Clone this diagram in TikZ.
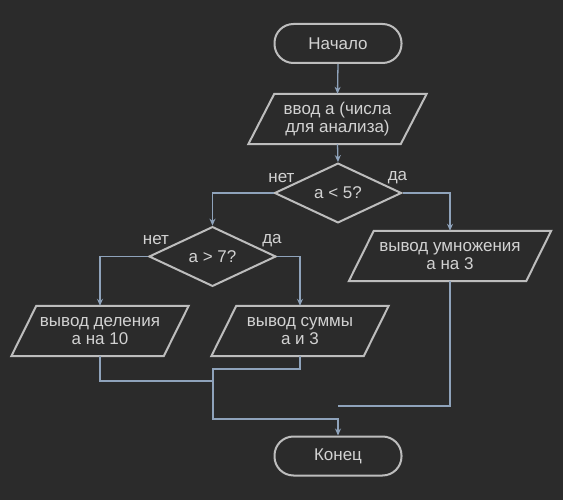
\documentclass[tikz,border=0pt]{standalone}
\usepackage{fontspec}
\setmainfont{Liberation Sans}
\usetikzlibrary{shapes.geometric,arrows.meta,calc}
\definecolor{bgc}{HTML}{2B2B2B}
\definecolor{edgec}{HTML}{BDBDBD}
\definecolor{txtc}{HTML}{D2D2D2}
\definecolor{connc}{HTML}{8FA3BB}
\tikzset{
  base/.style={inner sep=0pt, align=center, text=txtc, font=\fontsize{17}{18.5}\selectfont},
  term/.style={base, draw=edgec, line width=2pt, rounded corners=19pt, minimum width=127pt, minimum height=39pt},
  iobox/.style={base, minimum width=#1, minimum height=50pt},
  dec/.style={base, draw=edgec, line width=2pt, diamond, minimum width=127pt, minimum height=49pt},
  pline/.style={draw=edgec, line width=2pt, line join=miter},
  conn/.style={draw=connc, line width=1.3pt},
  arr/.style={conn, -{Stealth[length=7pt,width=6pt]}},
  lbl/.style={text=txtc, font=\fontsize{17}{18.5}\selectfont, inner sep=0pt}
}
\newcommand{\para}[2]{%
  \draw[pline] ([xshift=#2]#1.north west) -- ([xshift=#2]#1.north east)
    -- ([xshift=-#2]#1.south east) -- ([xshift=-#2]#1.south west) -- cycle;}
\begin{document}
\begin{tikzpicture}[x=1pt,y=-1pt]
\fill[bgc] (0,0) rectangle (563,500);
\useasboundingbox (0,0) rectangle (563,500);

\node[term] (start) at (338,43.5) {Начало};
\node[iobox=152pt] (inp) at (337.5,119) {ввод а (числа\\для анализа)};
\para{inp}{13pt}
\node[dec] (d1) at (338,193) {a < 5?};
\node[dec] (d2) at (212.5,256.5) {a > 7?};
\node[iobox=177pt] (mul) at (450,256) {вывод умножения\\а на 3};
\para{mul}{12.5pt}
\node[iobox=152pt] (div) at (100,331) {вывод деления\\а на 10};
\para{div}{12.5pt}
\node[iobox=152pt] (sum) at (300,331) {вывод суммы\\а и 3};
\para{sum}{12.5pt}
\node[term] (end) at (338,456) {Конец};

\node[lbl] (l1) at ($(d1.west)+(8,-15)$) {нет};
\node[lbl] (l2) at ($(d1.east)+(-5,-15)$) {да};
\node[lbl] (l3) at ($(d2.west)+(8,-16)$) {нет};
\node[lbl] (l4) at ($(d2.east)+(-5,-16)$) {да};

\coordinate (jA) at (213,381);
\coordinate (jB) at (213,369);
\coordinate (jC) at (213,419);
\coordinate (jD) at (338,406);

\draw[arr] (start.south) -- (inp.north);
\draw[arr] (inp.south) -- (d1.north);
\draw[arr] (d1.west) -| (d2.north);
\draw[arr] (d1.east) -| (mul.north);
\draw[arr] (d2.west) -| (div.north);
\draw[arr] (d2.east) -| (sum.north);
\draw[conn] (div.south) |- (jA);
\draw[arr] (sum.south) |- (jB) -- (jC) -| (end.north);
\draw[conn] (mul.south) |- (jD);
\end{tikzpicture}
\end{document}
